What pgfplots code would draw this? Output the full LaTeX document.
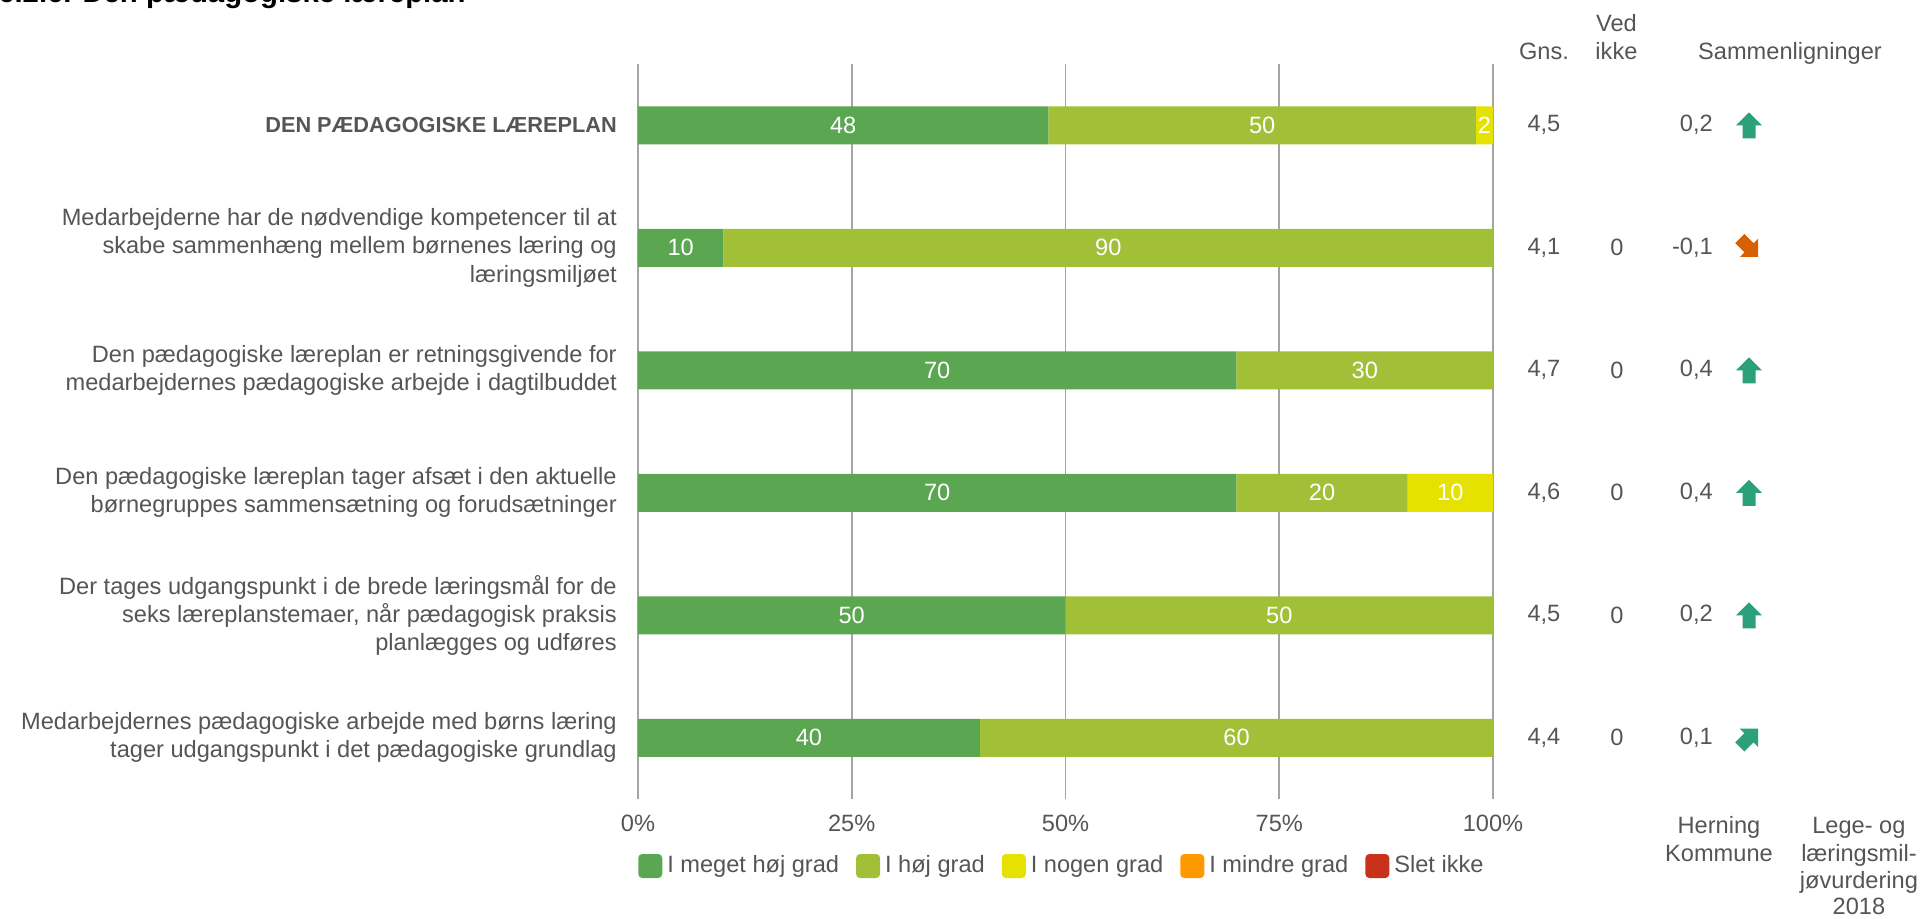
\documentclass[border=0pt]{standalone}
\usepackage{fontspec}
\setmainfont{Liberation Sans}
\usepackage{pgfplots}
\pgfplotsset{compat=1.18}

\definecolor{cA}{RGB}{91,166,80}
\definecolor{cB}{RGB}{161,191,55}
\definecolor{cC}{RGB}{230,226,0}
\definecolor{cD}{RGB}{255,153,0}
\definecolor{cE}{RGB}{200,50,26}
\definecolor{txt}{RGB}{85,85,85}
\definecolor{gridc}{RGB}{165,165,165}
\definecolor{upg}{RGB}{43,160,122}
\definecolor{dnor}{RGB}{217,96,0}

% fat block arrow pointing up, rotated for the diagonal ones
\pgfdeclareplotmark{fatarrow}{%
  \pgfpathmoveto{\pgfpoint{0pt}{\pgfplotmarksize}}%
  \pgfpathlineto{\pgfpoint{\pgfplotmarksize}{0pt}}%
  \pgfpathlineto{\pgfpoint{0.5\pgfplotmarksize}{0pt}}%
  \pgfpathlineto{\pgfpoint{0.5\pgfplotmarksize}{-\pgfplotmarksize}}%
  \pgfpathlineto{\pgfpoint{-0.5\pgfplotmarksize}{-\pgfplotmarksize}}%
  \pgfpathlineto{\pgfpoint{-0.5\pgfplotmarksize}{0pt}}%
  \pgfpathlineto{\pgfpoint{-\pgfplotmarksize}{0pt}}%
  \pgfpathclose
  \pgfusepathqfill
}

\newcommand{\fs}{\fontsize{17.7}{21.2}\selectfont}

\begin{document}
\fs
\begin{tikzpicture}
\useasboundingbox (-478.5pt,-89.25pt) rectangle (963.75pt,599.25pt);

\node[anchor=base west, inner sep=0pt, font=\fontsize{22}{26}\selectfont\bfseries]
  at (-480pt,597pt) {6.2.6. Den pædagogiske læreplan};

\begin{axis}[
  at={(0pt,0pt)}, anchor=south west,
  scale only axis, width=641.25pt, height=551.25pt,
  xbar stacked, bar width=28.5pt,
  xmin=0, xmax=100, ymin=-0.5, ymax=5.5, y dir=reverse,
  axis line style={draw=none}, major tick length=0pt,
  xtick={0,25,50,75,100}, xticklabels={0\%,25\%,50\%,75\%,100\%},
  xmajorgrids, grid style={gridc, line width=1.4pt},
  ytick={0,1,2,3,4,5},
  yticklabels={
    {\fontsize{16.3}{20}\selectfont\bfseries DEN PÆDAGOGISKE LÆREPLAN},
    {Medarbejderne har de nødvendige kompetencer til at\\skabe sammenhæng mellem børnenes læring og\\læringsmiljøet},
    {Den pædagogiske læreplan er retningsgivende for\\medarbejdernes pædagogiske arbejde i dagtilbuddet},
    {Den pædagogiske læreplan tager afsæt i den aktuelle\\børnegruppes sammensætning og forudsætninger},
    {Der tages udgangspunkt i de brede læringsmål for de\\seks læreplanstemaer, når pædagogisk praksis\\planlægges og udføres},
    {Medarbejdernes pædagogiske arbejde med børns læring\\tager udgangspunkt i det pædagogiske grundlag}},
  yticklabel style={align=right, inner sep=0pt, xshift=-15.75pt, text=txt, font=\fs},
  xticklabel style={anchor=base, inner sep=0pt, yshift=-24.4pt, text=txt, font=\fs},
  clip=false,
  legend style={at={(axis description cs:0,0)}, anchor=west, yshift=-50.25pt,
    draw=none, fill=none, inner sep=0pt, font=\fs, text=txt,
    nodes={inner sep=0pt},
    /tikz/every odd column/.append style={column sep=3.75pt},
    /tikz/every even column/.append style={column sep=12.75pt}},
  legend columns=5,
  legend image code/.code={\fill[#1, rounded corners=3pt] (0pt,-9pt) rectangle (18pt,9pt);},
]
\addplot[fill=cA, draw=none] coordinates {(48,0) (10,1) (70,2) (70,3) (50,4) (40,5)};
\addplot[fill=cB, draw=none] coordinates {(50,0) (90,1) (30,2) (20,3) (50,4) (60,5)};
\addplot[fill=cC, draw=none] coordinates {(2,0) (0,1) (0,2) (10,3) (0,4) (0,5)};
\addplot[fill=cD, draw=none] coordinates {(0,0) (0,1) (0,2) (0,3) (0,4) (0,5)};
\addplot[fill=cE, draw=none] coordinates {(0,0) (0,1) (0,2) (0,3) (0,4) (0,5)};
\legend{I meget høj grad, I høj grad, I nogen grad, I mindre grad, Slet ikke}

% column headers
\node[anchor=base, text=txt, font=\fs] at (axis cs:105.96,-0.535) {Gns.};
\node[anchor=base, text=txt, font=\fs] at (axis cs:114.44,-0.766) {Ved};
\node[anchor=base, text=txt, font=\fs] at (axis cs:114.44,-0.535) {ikke};
\node[anchor=base, text=txt, font=\fs] at (axis cs:134.74,-0.535) {Sammenligninger};

% averages
\node[text=txt, font=\fs] at (axis cs:105.96,0) {4,5};
\node[text=txt, font=\fs] at (axis cs:105.96,1) {4,1};
\node[text=txt, font=\fs] at (axis cs:105.96,2) {4,7};
\node[text=txt, font=\fs] at (axis cs:105.96,3) {4,6};
\node[text=txt, font=\fs] at (axis cs:105.96,4) {4,5};
\node[text=txt, font=\fs] at (axis cs:105.96,5) {4,4};

% ved ikke
\node[text=txt, font=\fs] at (axis cs:114.5,1) {0};
\node[text=txt, font=\fs] at (axis cs:114.5,2) {0};
\node[text=txt, font=\fs] at (axis cs:114.5,3) {0};
\node[text=txt, font=\fs] at (axis cs:114.5,4) {0};
\node[text=txt, font=\fs] at (axis cs:114.5,5) {0};

% comparison with Herning Kommune
\node[anchor=east, inner sep=0pt, text=txt, font=\fs] at (axis cs:125.73,0) {0,2};
\node[anchor=east, inner sep=0pt, text=txt, font=\fs] at (axis cs:125.73,1) {-0,1};
\node[anchor=east, inner sep=0pt, text=txt, font=\fs] at (axis cs:125.73,2) {0,4};
\node[anchor=east, inner sep=0pt, text=txt, font=\fs] at (axis cs:125.73,3) {0,4};
\node[anchor=east, inner sep=0pt, text=txt, font=\fs] at (axis cs:125.73,4) {0,2};
\node[anchor=east, inner sep=0pt, text=txt, font=\fs] at (axis cs:125.73,5) {0,1};

% footers
\node[anchor=base, text=txt, font=\fs] at (axis cs:126.43,5.778) {Herning};
\node[anchor=base, text=txt, font=\fs] at (axis cs:126.43,6.01) {Kommune};
\node[anchor=base, text=txt, font=\fs] at (axis cs:142.8,5.778) {Lege- og};
\node[anchor=base, text=txt, font=\fs] at (axis cs:142.8,6.01) {læringsmil-};
\node[anchor=base, text=txt, font=\fs] at (axis cs:142.8,6.233) {jøvurdering};
\node[anchor=base, text=txt, font=\fs] at (axis cs:142.8,6.445) {2018};
\end{axis}

% overlay axis (not stacked): segment labels and arrows
\begin{axis}[
  at={(0pt,0pt)}, anchor=south west,
  scale only axis, width=641.25pt, height=551.25pt,
  xmin=0, xmax=100, ymin=-0.5, ymax=5.5, y dir=reverse,
  hide axis, clip=false,
]
\addplot[only marks, mark=none, nodes near coords, point meta=explicit symbolic,
  every node near coord/.append style={anchor=center, text=white, font=\fs}]
  table[meta=lab] {
x  y lab
24 0 48
73 0 50
99 0 2
5  1 10
55 1 90
35 2 70
85 2 30
35 3 70
80 3 20
95 3 10
25 4 50
75 4 50
20 5 40
70 5 60
};
\addplot[only marks, mark=fatarrow, mark size=9.75pt, color=upg]
  coordinates {(129.94,0) (129.94,2) (129.94,3) (129.94,4)};
\addplot[only marks, mark=fatarrow, mark size=9.75pt, color=dnor, mark options={rotate=-135}]
  coordinates {(129.94,1)};
\addplot[only marks, mark=fatarrow, mark size=9.75pt, color=upg, mark options={rotate=-45}]
  coordinates {(129.94,5)};
\end{axis}
\end{tikzpicture}
\end{document}
